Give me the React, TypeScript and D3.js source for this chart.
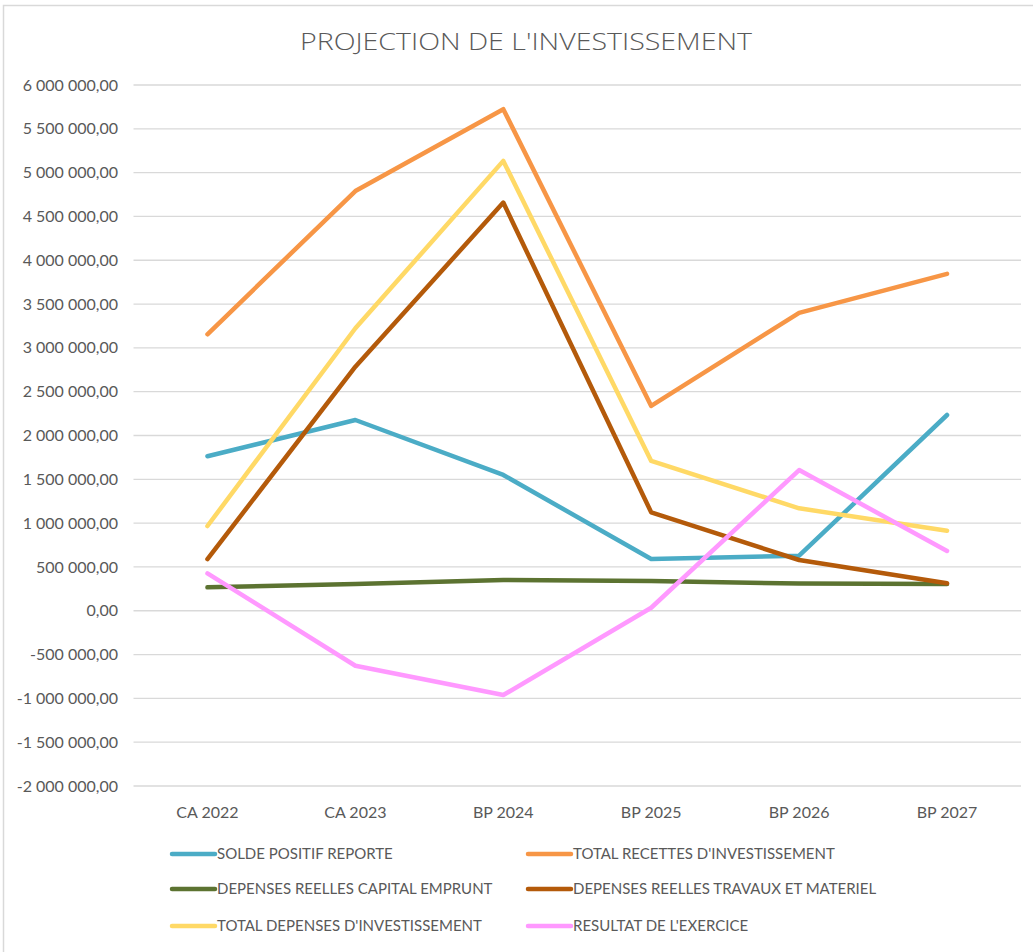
import React from "react";
import * as d3 from "d3";

const categories = ["CA 2022", "CA 2023", "BP 2024", "BP 2025", "BP 2026", "BP 2027"];

const soldePositifReporte = [1763000, 2177000, 1550000, 590000, 628000, 2234000];
const totalRecettes = [3155000, 4790000, 5724000, 2337000, 3400000, 3845000];
const depensesCapitalEmprunt = [267000, 305000, 350000, 339000, 310000, 305000];
const depensesTravaux = [590000, 2785000, 4658000, 1123000, 579000, 313000];
const totalDepenses = [967000, 3224000, 5134000, 1710000, 1169000, 913000];
const resultatExercice = [427000, -628000, -962000, 34000, 1606000, 682000];

const yTicks = [-2000000, -1500000, -1000000, -500000, 0, 500000, 1000000, 1500000, 2000000, 2500000, 3000000, 3500000, 4000000, 4500000, 5000000, 5500000, 6000000];

const seriesNames = [
  "SOLDE POSITIF REPORTE",
  "TOTAL RECETTES D'INVESTISSEMENT",
  "DEPENSES REELLES CAPITAL EMPRUNT",
  "DEPENSES REELLES TRAVAUX ET MATERIEL",
  "TOTAL DEPENSES D'INVESTISSEMENT",
  "RESULTAT DE L'EXERCICE",
];
const seriesValues = [
  soldePositifReporte,
  totalRecettes,
  depensesCapitalEmprunt,
  depensesTravaux,
  totalDepenses,
  resultatExercice,
];
const seriesColors = ["#4BACC6", "#F79646", "#5C7331", "#B45A0A", "#FFD966", "#FF99FF"];

const W = 1033;
const H = 952;
const plotLeft = 133.5;
const plotRight = 1021;
const plotTop = 85;
const plotBottom = 786;

const fr = d3.formatLocale({
  decimal: ",",
  thousands: " ",
  grouping: [3],
  currency: ["", ""],
  minus: "-",
} as any);
const fmt = fr.format(",.2f");

export default function App() {
  const x = d3.scaleBand<string>().domain(categories).range([plotLeft, plotRight]).padding(0);
  const y = d3.scaleLinear().domain([-2000000, 6000000]).range([plotBottom, plotTop]);
  const cx = (c: string) => (x(c) as number) + x.bandwidth() / 2;
  const line = d3
    .line<number>()
    .x((_, i) => cx(categories[i]))
    .y((d) => y(d));

  const textColor = "#595959";
  const font = "Lato, 'Open Sans', sans-serif";

  const legendCols = [172, 528];
  const legendRows = [854, 889, 926];

  return (
    <svg
      width={W}
      height={H}
      style={{ position: "fixed", left: 0, top: 0, background: "#fff" }}
    >
      <rect x={0} y={0} width={W} height={H} fill="#fff" />
      <rect x={3.5} y={5.5} width={W + 20} height={H + 20} fill="none" stroke="#D9D9D9" strokeWidth={1.5} />
      <text
        x={526}
        y={50}
        textAnchor="middle"
        fontFamily="'Open Sans', sans-serif"
        fontWeight={300}
        fontSize={23}
        fill={textColor}
        textLength={452}
        lengthAdjust="spacingAndGlyphs"
      >
        PROJECTION DE L'INVESTISSEMENT
      </text>
      {yTicks.map((t) => (
        <g key={t}>
          <line x1={plotLeft} x2={plotRight} y1={y(t)} y2={y(t)} stroke="#D9D9D9" strokeWidth={1.3} />
          <text
            x={118}
            y={y(t)}
            dy="0.35em"
            textAnchor="end"
            fontFamily={font}
            fontSize={16}
            fill={textColor}
          >
            {fmt(t)}
          </text>
        </g>
      ))}
      {categories.map((c) => (
        <text
          key={c}
          x={cx(c)}
          y={812}
          dy="0.35em"
          textAnchor="middle"
          fontFamily={font}
          fontSize={16}
          fill={textColor}
        >
          {c}
        </text>
      ))}
      {seriesValues.map((vals, i) => (
        <path
          key={seriesNames[i]}
          d={line(vals) as string}
          fill="none"
          stroke={seriesColors[i]}
          strokeWidth={4.5}
          strokeLinecap="round"
          strokeLinejoin="round"
        />
      ))}
      {seriesNames.map((name, i) => {
        const lx = legendCols[i % 2];
        const ly = legendRows[Math.floor(i / 2)];
        return (
          <g key={name}>
            <line x1={lx} x2={lx + 43} y1={ly} y2={ly} stroke={seriesColors[i]} strokeWidth={4.5} strokeLinecap="round" />
            <text x={lx + 45} y={ly} dy="0.35em" fontFamily={font} fontSize={15} fill={textColor}>
              {name}
            </text>
          </g>
        );
      })}
    </svg>
  );
}
